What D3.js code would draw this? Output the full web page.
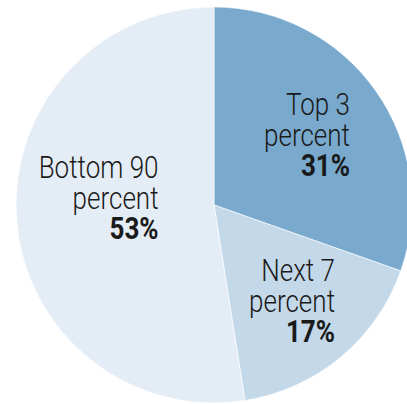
<!DOCTYPE html>
<html><head><meta charset="utf-8">
<script src="https://cdn.jsdelivr.net/npm/d3@7"></script>
<style>html,body{margin:0;padding:0;background:#fff;overflow:hidden}</style>
</head><body>
<svg id="c" width="407" height="404"></svg>
<script>
const categories = ["Top 3 percent", "Next 7 percent", "Bottom 90 percent"];
const values = [30.4, 17.1, 52.5];
const labelLines = [["Top 3", "percent"], ["Next 7", "percent"], ["Bottom 90", "percent"]];
const valueLabels = ["31%", "17%", "53%"];
const colors = ["#79a9cd", "#c3d8e9", "#e4edf5"];

const svg = d3.select("#c");
const cx = 214, cy = 205, r = 198;
const g = svg.append("g").attr("transform", `translate(${cx},${cy})`);

const pie = d3.pie().sort(null).value(d => d)(values);
const arc = d3.arc().innerRadius(0).outerRadius(r);

g.selectAll("path").data(pie).join("path")
  .attr("d", arc)
  .attr("fill", (d, i) => colors[i])
  .attr("stroke", "#fff").attr("stroke-width", 0.6);

// label anchors (right edge, first baseline) relative to slice centroid
const labelArc = d3.arc().innerRadius(r * 0.6).outerRadius(r * 0.6);
const offsets = [[39, -21], [45, -15], [63, -36]];
const fs = 31, lh = 30.3, sx = 0.84;

pie.forEach((d, i) => {
  const c = labelArc.centroid(d);
  const x = c[0] + offsets[i][0], y = c[1] + offsets[i][1];
  const t = g.append("g").attr("transform", `translate(${x},${y}) scale(${sx},1)`);
  const lines = labelLines[i].concat([valueLabels[i]]);
  lines.forEach((s, k) => {
    t.append("text")
      .attr("x", 0).attr("y", k * lh)
      .attr("text-anchor", "end")
      .attr("font-family", "Roboto, 'Liberation Sans', sans-serif")
      .attr("font-size", fs)
      .attr("font-weight", k === 2 ? 700 : 300)
      .attr("fill", "#1a1a1a")
      .text(s);
  });
});
</script>
</body></html>
